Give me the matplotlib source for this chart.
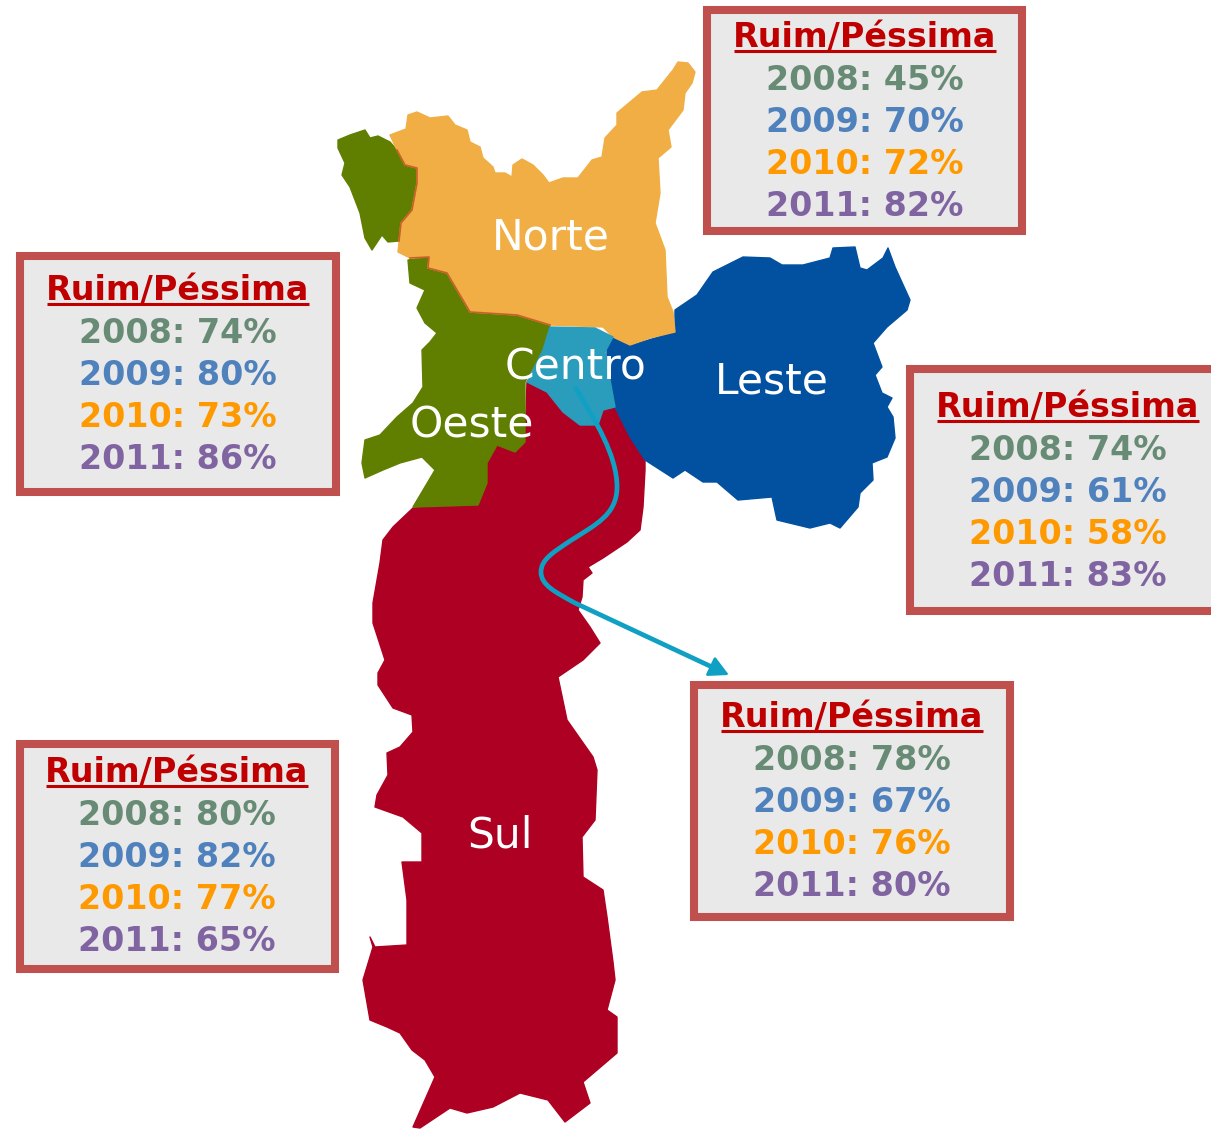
import matplotlib
matplotlib.use('Agg')
import matplotlib.pyplot as plt
from matplotlib.path import Path
from matplotlib.patches import PathPatch, Polygon, Rectangle

plt.rcParams['font.family'] = 'DejaVu Sans'

years = ['2008', '2009', '2010', '2011']
year_colors = ['#678B74', '#4F81BD', '#FF9900', '#8064A2']
title = 'Ruim/Péssima'

norte_vals = [45, 70, 72, 82]
oeste_vals = [74, 80, 73, 86]
leste_vals = [74, 61, 58, 83]
centro_vals = [78, 67, 76, 80]
sul_vals = [80, 82, 77, 65]

# map outlines, in pixels of the picture
outline_norte = [(390,135),(406,129),(408,115),(417,112),(430,118),(448,116),(455,125),(467,130),(470,142),(480,147),
                 (483,158),(493,167),(495,173),(505,173),(512,177),(513,165),(522,159),(533,165),(543,175),(549,183),
                 (563,178),(578,178),(592,160),(602,157),(605,138),(617,125),(617,113),(642,92),(657,90),(673,70),
                 (678,62),(688,63),(695,72),(692,83),(685,93),(683,110),(668,130),(671,147),(658,158),(660,193),
                 (655,223),(665,250),(667,297),(673,312),(675,332),(650,338),(630,345),(613,337),(603,327),(550,325),
                 (517,315),(470,312),(447,273),(428,268),(429,257),(410,258),(398,252),(401,223),(412,210),(417,183),
                 (417,168),(405,165),(397,150)]
outline_noroeste = [(338,140),(350,135),(365,130),(370,138),(378,136),(390,142),(397,150),(405,165),(417,168),(417,183),
                    (412,210),(402,223),(399,241),(388,242),(382,235),(372,250),(365,238),(360,213),(350,187),(342,175),
                    (345,163),(338,148)]
outline_oeste = [(408,260),(410,283),(425,290),(417,308),(425,323),(437,333),(430,342),(422,350),(423,387),(413,403),
                 (397,417),(380,435),(365,440),(362,463),(365,478),(383,470),(400,463),(422,457),(435,470),(413,507),
                 (478,505),(487,483),(487,463),(497,445),(515,452),(525,442),(525,382),(543,350),(550,325),(517,315),
                 (470,312),(447,273),(428,268),(429,257)]
outline_centro = [(550,327),(595,328),(613,337),(605,352),(615,407),(603,410),(598,425),(580,425),(563,412),(547,392),
                  (527,382),(543,350)]
outline_leste = [(675,310),(697,295),(713,272),(743,257),(770,258),(782,265),(803,265),(830,258),(833,248),(855,247),
                 (860,268),(867,270),(883,258),(888,248),(895,267),(910,300),(907,310),(887,327),(873,343),(882,367),
                 (875,375),(882,393),(892,398),(887,407),(893,417),(895,438),(887,457),(872,463),(873,480),(860,493),
                 (858,507),(840,528),(830,523),(810,528),(777,520),(772,497),(738,500),(717,482),(703,482),(685,470),
                 (673,478),(645,460),(630,437),(615,407),(607,377),(607,347),(613,337),(632,345),(675,332)]
outline_sul = [(527,382),(547,392),(563,412),(580,425),(598,425),(603,410),(615,407),(630,437),(645,460),(645,470),
               (643,507),(640,530),(627,542),(603,558),(588,567),(592,573),(583,580),(582,597),(578,610),(590,627),
               (600,643),(583,660),(558,677),(567,720),(593,757),(597,770),(595,820),(582,837),(583,877),(603,890),
               (607,917),(613,962),(615,980),(607,1010),(617,1017),(617,1053),(583,1082),(590,1103),(565,1122),(548,1100),
               (520,1093),(493,1107),(467,1113),(450,1108),(420,1128),(413,1127),(435,1077),(425,1060),(412,1050),(400,1033),
               (387,1027),(370,1020),(363,980),(373,947),(370,937),(375,947),(407,945),(407,900),(402,862),(422,862),
               (422,833),(403,817),(375,807),(377,795),(388,775),(387,753),(400,747),(413,732),(412,715),(393,708),
               (378,685),(378,673),(385,660),(373,623),(373,603),(380,563),(383,540),(393,527),(413,508),(478,505),
               (487,483),(487,463),(497,445),(515,452),(525,442)]
norte_border = [(397,150),(405,165),(417,168),(417,183),(412,210),(401,223),(399,241)]
norte_border2 = [(410,258),(429,257),(428,268),(447,273),(470,312),(517,315),(550,325)]

river = [(575,387),(595,420),(617,455),(617,487),(617,515),(595,525),(570,541),
         (552,553),(541,560),(541,572),(541,585),(555,592),(575,603)]
river_end = (712,667)
arrow_tip = (729,675)


fig = plt.figure(figsize=(12.11, 11.31), dpi=100)
ax = fig.add_axes([0, 0, 1, 1])
ax.set_xlim(0, 1211)
ax.set_ylim(1131, 0)
ax.axis('off')

regions = [(outline_sul, '#AE0022'), (outline_leste, '#0250A0'), (outline_oeste, '#607F00'),
           (outline_noroeste, '#607F00'), (outline_norte, '#F0AE45'), (outline_centro, '#2A9CBC')]
for pts, col in regions:
    ax.add_patch(Polygon(pts, closed=True, fc=col, ec=col, lw=1.0, joinstyle='round', zorder=2))

for border in [norte_border, norte_border2]:
    ax.plot([p[0] for p in border], [p[1] for p in border], color='#C8602A', lw=1.2, zorder=3)

# the river arrow
codes = [Path.MOVETO] + [Path.CURVE4] * (len(river) - 1) + [Path.LINETO]
ax.add_patch(PathPatch(Path(river + [river_end], codes), fc='none', ec='#10A0C4', lw=3.4, zorder=4))
ax.annotate('', xy=arrow_tip, xytext=river_end,
            arrowprops=dict(arrowstyle='-|>,head_length=0.8,head_width=0.42', color='#10A0C4', lw=2.0,
                            mutation_scale=15, shrinkA=0, shrinkB=0), zorder=4)

labels = [('Norte', 551, 250), ('Centro', 576, 379), ('Leste', 772, 393), ('Oeste', 472, 437), ('Sul', 500, 848)]
for name, x, y in labels:
    ax.text(x, y, name, color='white', fontsize=30.5, ha='center', va='baseline', zorder=5)

# x0, x1, y0, y1 of the frame, text centre, title baseline
boxes = [(norte_vals, 707, 1022, 10, 231, 865, 47),
         (oeste_vals, 20, 336, 256, 492, 178, 300),
         (leste_vals, 910, 1225, 369, 611, 1068, 417),
         (centro_vals, 694, 1010, 685, 917, 852, 727),
         (sul_vals, 20, 335, 744, 969, 177, 782)]
for vals, x0, x1, y0, y1, xc, yt in boxes:
    ax.add_patch(Rectangle((x0, y0), x1 - x0, y1 - y0, fc='#E9E9E9', ec='#C0504D', lw=5.8, zorder=6))
    ax.text(xc, yt, title, color='#C00000', fontsize=24, fontweight='bold', ha='center', va='baseline', zorder=7)
    ax.plot([xc - 131, xc + 131], [yt + 3.5, yt + 3.5], color='#C00000', lw=2.2, solid_capstyle='butt', zorder=7)
    for i in range(len(years)):
        ax.text(xc, yt + 1 + 42 * (i + 1), '%s: %d%%' % (years[i], vals[i]), color=year_colors[i], fontsize=24,
                fontweight='bold', ha='center', va='baseline', zorder=7)

fig.savefig('out.png', dpi=100)
